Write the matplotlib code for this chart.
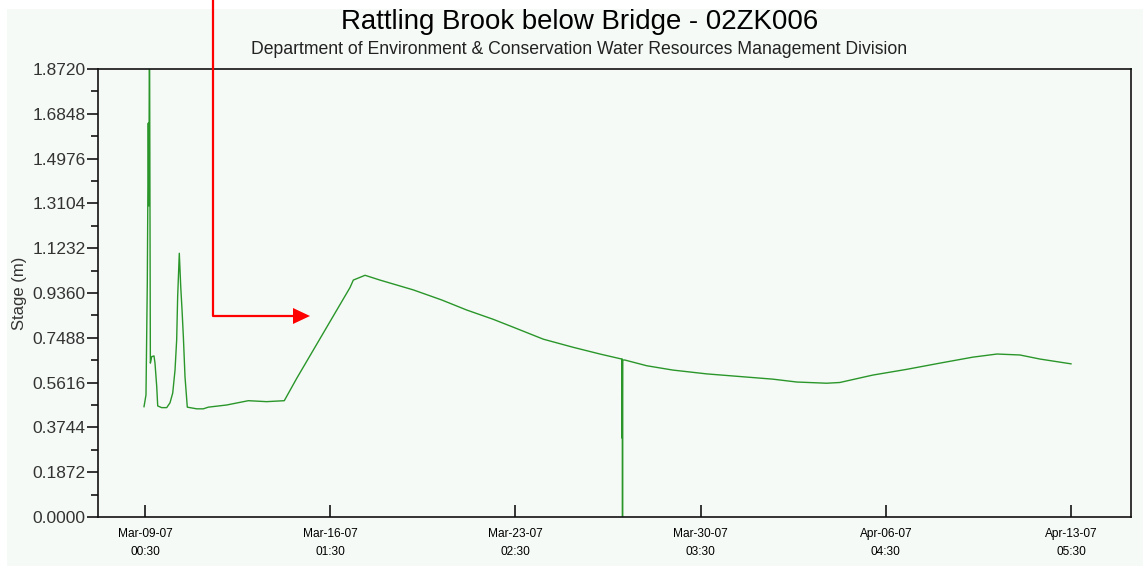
"""Stage hydrograph for Rattling Brook below Bridge (02ZK006), Mar-Apr 2007."""
from datetime import datetime, timedelta
import matplotlib
matplotlib.use("Agg")
import matplotlib.pyplot as plt
import matplotlib.dates as mdates
from matplotlib.patches import Rectangle, Polygon
from matplotlib.lines import Line2D
import numpy as np

plt.rcParams["font.family"] = ["Liberation Sans", "DejaVu Sans"]

START = datetime(2007, 3, 9, 0, 30)

# hours after Mar-09-07 00:30 and stage (m)
hours = [-0.9, 0.9, 2.1, 3.0, 3.5, 4.1, 4.9, 6.1, 8.2, 9.1, 10.7, 11.6,
         15.2, 19.8, 22.8, 25.3, 27.4, 28.9, 29.8, 31.3, 32.6, 33.8, 35.0,
         36.5, 38.6, 47.2, 53.2, 57.8, 74.5, 94.3, 111.0, 127.1, 138.4,
         187.1, 190.1, 200.8, 214.4, 244.8, 270.7, 293.5, 317.8, 336.1,
         363.5, 390.8, 415.2, 435.0, 435.25, 435.5, 435.75, 436.0, 437.8,
         457.9, 481.6, 512.6, 542.8, 572.9, 594.8, 622.1, 634.0, 664.1,
         695.1, 725.4, 755.5, 777.5, 798.4, 816.7, 845.0]
stage = [0.461, 0.510, 0.978, 1.646, 1.300, 2.100, 0.643, 0.670, 0.673,
         0.644, 0.545, 0.464, 0.457, 0.457, 0.477, 0.518, 0.614, 0.740,
         0.920, 1.102, 0.963, 0.865, 0.754, 0.586, 0.459, 0.452, 0.452,
         0.459, 0.468, 0.486, 0.482, 0.486, 0.579, 0.959, 0.990, 1.010,
         0.990, 0.949, 0.907, 0.865, 0.826, 0.793, 0.743, 0.709, 0.681,
         0.660, 0.330, 0.660, 0.000, 0.656, 0.656, 0.632, 0.614, 0.598,
         0.587, 0.576, 0.564, 0.559, 0.562, 0.593, 0.617, 0.643, 0.668,
         0.681, 0.677, 0.660, 0.640]

y_ticks = np.arange(11) * 0.1872
x_ticks = [START + timedelta(days=7, hours=1) * k for k in range(6)]

times = [START + timedelta(hours=h) for h in hours]

BG = "#f5faf6"
W, H = 1143, 566
fig = plt.figure(figsize=(W / 100, H / 100), dpi=100, facecolor="white")
fig.add_artist(Rectangle((7 / W, 0), 1 - 7 / W, 1 - 9 / H,
                         transform=fig.transFigure, facecolor=BG,
                         edgecolor="none", zorder=-10))

ax = fig.add_axes([98 / W, 1 - 517 / H, (1131 - 98) / W, (517 - 69) / H])
ax.set_facecolor(BG)
ax.plot(times, stage, color="#2a962a", lw=1.0)

ax.set_ylim(0, 1.872)
ax.set_yticks(y_ticks)
ax.set_yticklabels([f"{v:.4f}" for v in y_ticks])
ax.set_yticks(y_ticks[:-1] + 0.0936, minor=True)
ax.tick_params(axis="y", which="major", direction="out", length=8, width=1.1,
               labelsize=12.5, labelcolor="#333333", pad=1)
ax.tick_params(axis="y", which="minor", direction="out", length=5, width=1.1)

ax.set_xlim(START - timedelta(days=1.787), START + timedelta(days=37.49))
ax.set_xticks(x_ticks)
ax.xaxis.set_major_formatter(mdates.DateFormatter("%b-%d-%y\n%H:%M"))
ax.tick_params(axis="x", direction="in", length=8.5, width=1.1,
               labelsize=8.6, pad=8)
for lbl in ax.get_xticklabels():
    lbl.set_linespacing(1.7)

for sp in ax.spines.values():
    sp.set_linewidth(1.2)
    sp.set_color("#111111")

ax.set_ylabel("Stage (m)", fontsize=12, color="#333333", labelpad=4)

fig.text(0.507, 1 - 22 / H, "Rattling Brook below Bridge - 02ZK006",
         ha="center", va="center", fontsize=19.9)
fig.text(0.507, 1 - 50 / H,
         "Department of Environment & Conservation Water Resources Management Division",
         ha="center", va="center", fontsize=12.7, color="#222222")

# red pointer arrow from the top edge towards the rising limb
fig.add_artist(Line2D([213 / W, 213 / W, 296 / W],
                      [1.0, 1 - 316 / H, 1 - 316 / H],
                      transform=fig.transFigure, color="red", lw=1.6))
fig.add_artist(Polygon([(293 / W, 1 - 308 / H), (293 / W, 1 - 324 / H),
                        (310 / W, 1 - 316 / H)], closed=True,
                       transform=fig.transFigure, facecolor="red",
                       edgecolor="none"))

fig.savefig("out.png", dpi=100, facecolor=fig.get_facecolor())
